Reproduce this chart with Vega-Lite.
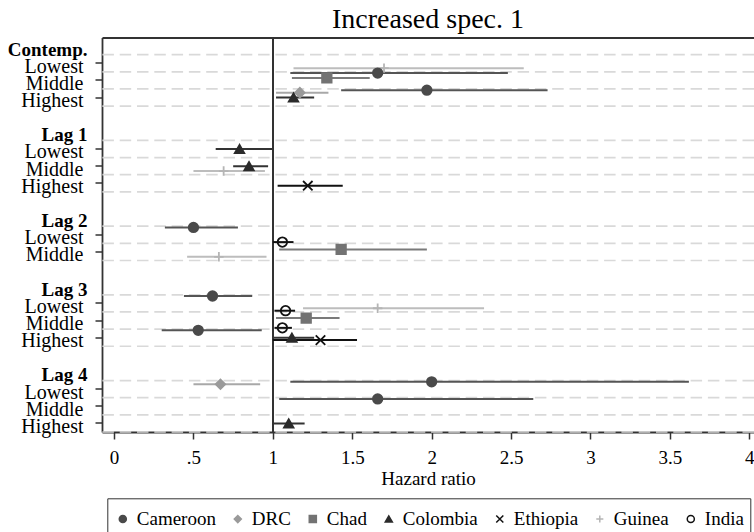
{
  "$schema": "https://vega.github.io/schema/vega-lite/v6.json",
  "width": 652,
  "height": 394.5,
  "autosize": {"type": "none"},
  "padding": {"left": 102, "top": 37.5, "right": 0, "bottom": 100},
  "background": "white",
  "config": {
    "view": {"stroke": null},
    "font": "Liberation Serif"
  },
  "title": {"text": "Increased spec. 1", "font": "Liberation Serif", "fontSize": 28, "fontWeight": "normal", "color": "black", "anchor": "middle", "offset": 3},
  "datasets": {
    "coef": [
      {"row": "Contemp.|Lowest", "country": "Guinea", "hr": 1.70, "lo": 1.13, "hi": 2.58},
      {"row": "Contemp.|Middle", "country": "Cameroon", "hr": 1.66, "lo": 1.11, "hi": 2.48},
      {"row": "Contemp.|Middle", "country": "Chad", "hr": 1.34, "lo": 1.12, "hi": 1.61},
      {"row": "Contemp.|Highest", "country": "Cameroon", "hr": 1.97, "lo": 1.43, "hi": 2.73},
      {"row": "Contemp.|Highest", "country": "DRC", "hr": 1.17, "lo": 1.02, "hi": 1.35},
      {"row": "Contemp.|Highest", "country": "Colombia", "hr": 1.13, "lo": 1.02, "hi": 1.26},
      {"row": "Lag 1|Lowest", "country": "Colombia", "hr": 0.79, "lo": 0.64, "hi": 1.00},
      {"row": "Lag 1|Middle", "country": "Colombia", "hr": 0.85, "lo": 0.75, "hi": 0.97},
      {"row": "Lag 1|Middle", "country": "Guinea", "hr": 0.69, "lo": 0.50, "hi": 0.95},
      {"row": "Lag 1|Highest", "country": "Ethiopia", "hr": 1.22, "lo": 1.03, "hi": 1.44},
      {"row": "Lag 2|Lowest", "country": "Cameroon", "hr": 0.50, "lo": 0.32, "hi": 0.78},
      {"row": "Lag 2|Lowest", "country": "India", "hr": 1.06, "lo": 1.00, "hi": 1.13},
      {"row": "Lag 2|Middle", "country": "Chad", "hr": 1.43, "lo": 1.04, "hi": 1.97},
      {"row": "Lag 2|Middle", "country": "Guinea", "hr": 0.66, "lo": 0.46, "hi": 0.96},
      {"row": "Lag 3|Lowest", "country": "Cameroon", "hr": 0.62, "lo": 0.44, "hi": 0.87},
      {"row": "Lag 3|Lowest", "country": "Guinea", "hr": 1.66, "lo": 1.19, "hi": 2.33},
      {"row": "Lag 3|Lowest", "country": "India", "hr": 1.08, "lo": 1.01, "hi": 1.14},
      {"row": "Lag 3|Middle", "country": "Chad", "hr": 1.21, "lo": 1.02, "hi": 1.42},
      {"row": "Lag 3|Middle", "country": "India", "hr": 1.06, "lo": 1.01, "hi": 1.12},
      {"row": "Lag 3|Highest", "country": "Cameroon", "hr": 0.53, "lo": 0.30, "hi": 0.93},
      {"row": "Lag 3|Highest", "country": "Colombia", "hr": 1.12, "lo": 1.00, "hi": 1.26},
      {"row": "Lag 3|Highest", "country": "Ethiopia", "hr": 1.30, "lo": 1.00, "hi": 1.53},
      {"row": "Lag 4|Lowest", "country": "DRC", "hr": 0.67, "lo": 0.50, "hi": 0.92},
      {"row": "Lag 4|Lowest", "country": "Cameroon", "hr": 2.00, "lo": 1.11, "hi": 3.62},
      {"row": "Lag 4|Middle", "country": "Cameroon", "hr": 1.66, "lo": 1.04, "hi": 2.64},
      {"row": "Lag 4|Highest", "country": "Colombia", "hr": 1.10, "lo": 1.00, "hi": 1.20}
    ],
    "grid": [
      {"row": "Contemp.|"}, {"row": "Contemp.|Lowest"}, {"row": "Contemp.|Middle"}, {"row": "Contemp.|Highest"},
      {"row": "Lag 1|"}, {"row": "Lag 1|Lowest"}, {"row": "Lag 1|Middle"}, {"row": "Lag 1|Highest"},
      {"row": "Lag 2|"}, {"row": "Lag 2|Lowest"}, {"row": "Lag 2|Middle"},
      {"row": "Lag 3|"}, {"row": "Lag 3|Lowest"}, {"row": "Lag 3|Middle"}, {"row": "Lag 3|Highest"},
      {"row": "Lag 4|"}, {"row": "Lag 4|Lowest"}, {"row": "Lag 4|Middle"}, {"row": "Lag 4|Highest"}
    ]
  },
  "resolve": {"axis": {"x": "independent", "y": "independent"}},
  "layer": [
    {
      "data": {"name": "grid"},
      "mark": {"type": "rule", "stroke": "#d9d9d9", "strokeWidth": 1.7, "strokeDash": [11.5, 5.8]},
      "encoding": {
        "y": {
          "field": "row", "type": "nominal", "bandPosition": 1,
          "scale": {"type": "band", "paddingInner": 0, "paddingOuter": 0, "domain": ["Contemp.|", "Contemp.|Lowest", "Contemp.|Middle", "Contemp.|Highest", "gap1", "Lag 1|", "Lag 1|Lowest", "Lag 1|Middle", "Lag 1|Highest", "gap2", "Lag 2|", "Lag 2|Lowest", "Lag 2|Middle", "gap3", "Lag 3|", "Lag 3|Lowest", "Lag 3|Middle", "Lag 3|Highest", "gap4", "Lag 4|", "Lag 4|Lowest", "Lag 4|Middle", "Lag 4|Highest"]},
          "axis": {
            "title": null,
            "grid": false,
            "domain": true, "domainColor": "#333333", "domainWidth": 1.8,
            "bandPosition": 0.5,
            "ticks": true, "tickSize": 7, "tickWidth": 1.5, "tickColor": "#333333",
            "tickOpacity": {"condition": {"test": "indexof(datum.value, '|') >= 0 && slice(datum.value, -1) != '|'", "value": 1}, "value": 0},
            "labelExpr": "indexof(datum.value, '|') < 0 ? '' : (slice(datum.value, -1) == '|' ? substring(datum.value, 0, indexof(datum.value, '|')) : substring(datum.value, indexof(datum.value, '|') + 1))",
            "labelFont": "Liberation Serif", "labelColor": "black",
            "labelFontSize": {"condition": {"test": "slice(datum.value, -1) == '|'", "value": 19}, "value": 20},
            "labelFontWeight": {"condition": {"test": "slice(datum.value, -1) == '|'", "value": "bold"}, "value": "normal"},
            "labelPadding": {"condition": {"test": "slice(datum.value, -1) == '|'", "value": 8}, "value": 12},
            "labelOffset": 3.5, "labelBaseline": "middle", "labelAlign": "right", "labelLimit": 200
          }
        }
      }
    },
    {
      "data": {"name": "grid"},
      "mark": {"type": "rule", "stroke": "#333333", "strokeWidth": 1.6},
      "encoding": {
        "x": {"datum": 1, "type": "quantitative", "scale": {"domain": [-0.076, 4.03], "nice": false, "zero": false},
          "axis": {"orient": "top", "domain": true, "domainColor": "#333333", "domainWidth": 1.8, "ticks": false, "labels": false, "grid": false, "title": null}}
      }
    },
    {
      "data": {"name": "coef"},
      "mark": {"type": "rule", "strokeWidth": 2},
      "encoding": {
        "x": {"field": "lo", "type": "quantitative", "scale": {"domain": [-0.076, 4.03], "nice": false, "zero": false},
          "axis": {"orient": "bottom", "values": [0, 0.5, 1, 1.5, 2, 2.5, 3, 3.5, 4], "labelExpr": "datum.value == 0.5 ? '.5' : toString(datum.value)", "grid": false, "domain": true, "domainColor": "#333333", "domainWidth": 1.8, "tickSize": 7, "tickWidth": 1.5, "tickColor": "#333333", "labelFont": "Liberation Serif", "labelFontSize": 19, "labelColor": "black", "labelPadding": 9, "labelFlush": false, "labelOverlap": false, "title": "Hazard ratio", "titleFont": "Liberation Serif", "titleFontSize": 19, "titleFontWeight": "normal", "titleColor": "black", "titlePadding": 2}},
        "x2": {"field": "hi"},
        "y": {"field": "row", "type": "nominal",
          "scale": {"type": "band", "paddingInner": 0, "paddingOuter": 0, "domain": ["Contemp.|", "Contemp.|Lowest", "Contemp.|Middle", "Contemp.|Highest", "gap1", "Lag 1|", "Lag 1|Lowest", "Lag 1|Middle", "Lag 1|Highest", "gap2", "Lag 2|", "Lag 2|Lowest", "Lag 2|Middle", "gap3", "Lag 3|", "Lag 3|Lowest", "Lag 3|Middle", "Lag 3|Highest", "gap4", "Lag 4|", "Lag 4|Lowest", "Lag 4|Middle", "Lag 4|Highest"]},
          "axis": null},
        "yOffset": {"field": "country", "type": "nominal", "scale": {"type": "band", "paddingInner": 0, "paddingOuter": 0, "domain": ["Cameroon", "DRC", "Chad", "Colombia", "Ethiopia", "Guinea", "India"]}},
        "color": {"field": "country", "type": "nominal", "legend": null,
          "scale": {"range": ["#555555", "#7a7a7a", "#333333", "#a8a8a8", "#111111", "#bdbdbd", "#111111"]}}
      }
    },
    {
      "data": {"name": "coef"},
      "mark": {"type": "point", "opacity": 1, "strokeWidth": 1.8},
      "encoding": {
        "x": {"field": "hr", "type": "quantitative", "scale": {"domain": [-0.076, 4.03], "nice": false, "zero": false}, "axis": null},
        "y": {"field": "row", "type": "nominal",
          "scale": {"type": "band", "paddingInner": 0, "paddingOuter": 0, "domain": ["Contemp.|", "Contemp.|Lowest", "Contemp.|Middle", "Contemp.|Highest", "gap1", "Lag 1|", "Lag 1|Lowest", "Lag 1|Middle", "Lag 1|Highest", "gap2", "Lag 2|", "Lag 2|Lowest", "Lag 2|Middle", "gap3", "Lag 3|", "Lag 3|Lowest", "Lag 3|Middle", "Lag 3|Highest", "gap4", "Lag 4|", "Lag 4|Lowest", "Lag 4|Middle", "Lag 4|Highest"]},
          "axis": null},
        "yOffset": {"field": "country", "type": "nominal", "scale": {"type": "band", "paddingInner": 0, "paddingOuter": 0, "domain": ["Cameroon", "DRC", "Chad", "Colombia", "Ethiopia", "Guinea", "India"]}},
        "size": {"field": "country", "type": "ordinal", "legend": null,
          "scale": {"range": [90, 90, 100, 110, 60, 80, 75]}},
        "fill": {"field": "country", "type": "nominal",
          "scale": {"domain": ["Cameroon", "DRC", "Chad", "Colombia", "Ethiopia", "Guinea", "India"], "range": ["#4a4a4a", "#9a9a9a", "#737373", "#2b2b2b", "transparent", "transparent", "transparent"]},
          "legend": {"title": " ", "titleFontSize": 5, "titlePadding": 0, "orient": "none", "legendX": 5.3, "legendY": 460.8, "direction": "horizontal", "columns": 7, "columnPadding": 12, "labelOffset": 4.5, "padding": 6, "strokeColor": "#333333", "fillColor": "white", "labelFont": "Liberation Serif", "labelFontSize": 19, "labelColor": "black", "symbolSize": 50, "symbolStrokeWidth": 1.5, "labelLimit": 300}},
        "stroke": {"field": "country", "type": "nominal",
          "scale": {"domain": ["Cameroon", "DRC", "Chad", "Colombia", "Ethiopia", "Guinea", "India"], "range": ["#4a4a4a", "#9a9a9a", "#737373", "#2b2b2b", "#111111", "#b5b5b5", "#111111"]},
          "legend": {"title": " ", "titleFontSize": 5, "titlePadding": 0, "orient": "none", "legendX": 5.3, "legendY": 460.8, "direction": "horizontal", "columns": 7, "columnPadding": 12, "labelOffset": 4.5, "padding": 6, "strokeColor": "#333333", "fillColor": "white", "labelFont": "Liberation Serif", "labelFontSize": 19, "labelColor": "black", "symbolSize": 50, "symbolStrokeWidth": 1.5, "labelLimit": 300}},
        "shape": {"field": "country", "type": "nominal",
          "scale": {"domain": ["Cameroon", "DRC", "Chad", "Colombia", "Ethiopia", "Guinea", "India"], "range": ["circle", "diamond", "square", "triangle-up", "M-1,-1L1,1M-1,1L1,-1", "M-1,0L1,0M0,-1L0,1", "circle"]},
          "legend": {"title": " ", "titleFontSize": 5, "titlePadding": 0, "orient": "none", "legendX": 5.3, "legendY": 460.8, "direction": "horizontal", "columns": 7, "columnPadding": 12, "labelOffset": 4.5, "padding": 6, "strokeColor": "#333333", "fillColor": "white", "labelFont": "Liberation Serif", "labelFontSize": 19, "labelColor": "black", "symbolSize": 50, "symbolStrokeWidth": 1.5, "labelLimit": 300}}
      }
    }
  ]
}
